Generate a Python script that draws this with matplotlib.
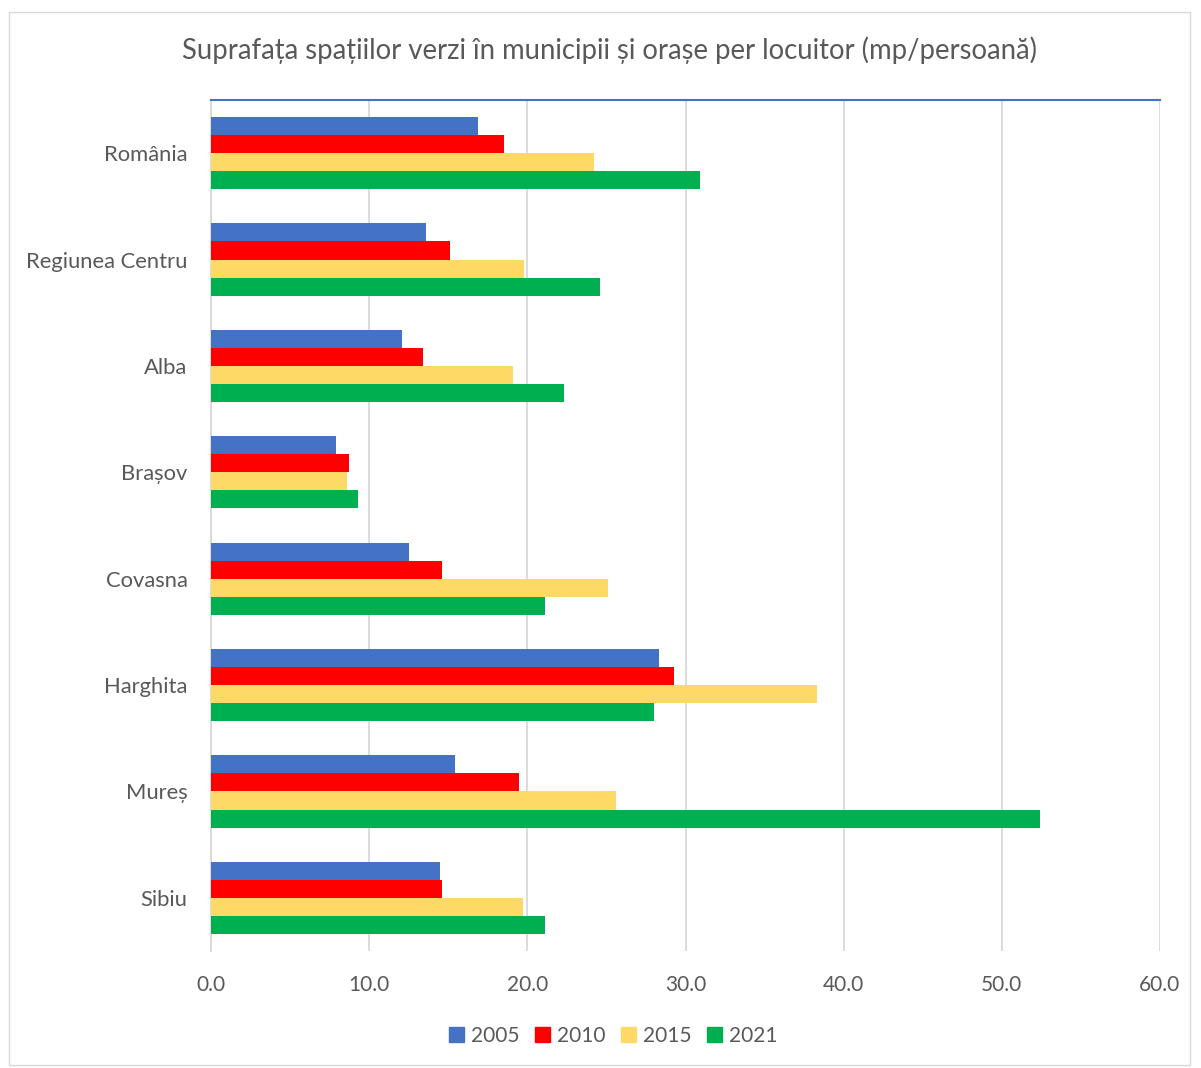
import matplotlib
matplotlib.use("Agg")
import matplotlib.pyplot as plt
from matplotlib.patches import Rectangle
import numpy as np

categories = ["România", "Regiunea Centru", "Alba", "Brașov", "Covasna", "Harghita", "Mureș", "Sibiu"]
years = ["2005", "2010", "2015", "2021"]
v2005 = [16.9, 13.6, 12.1, 7.9, 12.5, 28.3, 15.4, 14.5]
v2010 = [18.5, 15.1, 13.4, 8.7, 14.6, 29.3, 19.5, 14.6]
v2015 = [24.2, 19.8, 19.1, 8.6, 25.1, 38.3, 25.6, 19.7]
v2021 = [30.9, 24.6, 22.3, 9.3, 21.1, 28.0, 52.4, 21.1]
series = [v2005, v2010, v2015, v2021]
colors = ["#4472C4", "#FF0000", "#FFD966", "#00B050"]
xticks = [0, 10, 20, 30, 40, 50, 60]
title = "Suprafața spațiilor verzi în municipii și orașe per locuitor (mp/persoană)"

plt.rcParams['font.family'] = ['Lato', 'DejaVu Sans']

W, H = 1201, 1068
fig = plt.figure(figsize=(W / 100, H / 100), dpi=100)

# outer border
fig.patches.append(Rectangle((9 / W, 1 - 1065 / H), (1190 - 9) / W, (1065 - 12) / H,
                             transform=fig.transFigure, fill=False, edgecolor="#D9D9D9", lw=1))

ax = fig.add_axes([211 / W, 1 - 951 / H, (1160 - 211) / W, (951 - 100) / H])

n = len(categories)
bh = 0.17
y = np.arange(n)
for k, (vals, c) in enumerate(zip(series, colors)):
    ax.barh(y + (k - 1.5) * bh, vals, height=bh, color=c, label=years[k], zorder=3)

ax.set_xlim(0, 60)
ax.set_ylim(n - 0.5, -0.5)
ax.set_xticks(xticks)
ax.set_xticklabels([f"{t:.1f}" for t in xticks], fontsize=15, color="#595959")
ax.set_yticks(y)
ax.set_yticklabels(categories, fontsize=15.8, color="#595959")
ax.tick_params(axis="y", length=0, pad=17)
ax.tick_params(axis="x", length=0, pad=17)
ax.grid(axis="x", color="#D9D9D9", lw=1.3, zorder=0)
for s in ["right", "bottom"]:
    ax.spines[s].set_visible(False)
ax.spines["left"].set_color("#D9D9D9")
ax.spines["left"].set_linewidth(1.3)
ax.spines["top"].set_color("#4472C4")
ax.spines["top"].set_linewidth(1.5)

fig.text(610 / W, 1 - 50 / H, title, ha="center", va="center", fontsize=19.8, color="#595959")

handles = [Rectangle((0, 0), 1, 1, color=c) for c in colors]
fig.legend(handles, years, loc="center", bbox_to_anchor=(613 / W, 1 - 1036 / H), ncol=4,
           frameon=False, fontsize=15, handlelength=0.75, handleheight=0.75,
           handletextpad=0.3, columnspacing=0.75, labelcolor="#595959")

fig.savefig("out.png", dpi=100)
